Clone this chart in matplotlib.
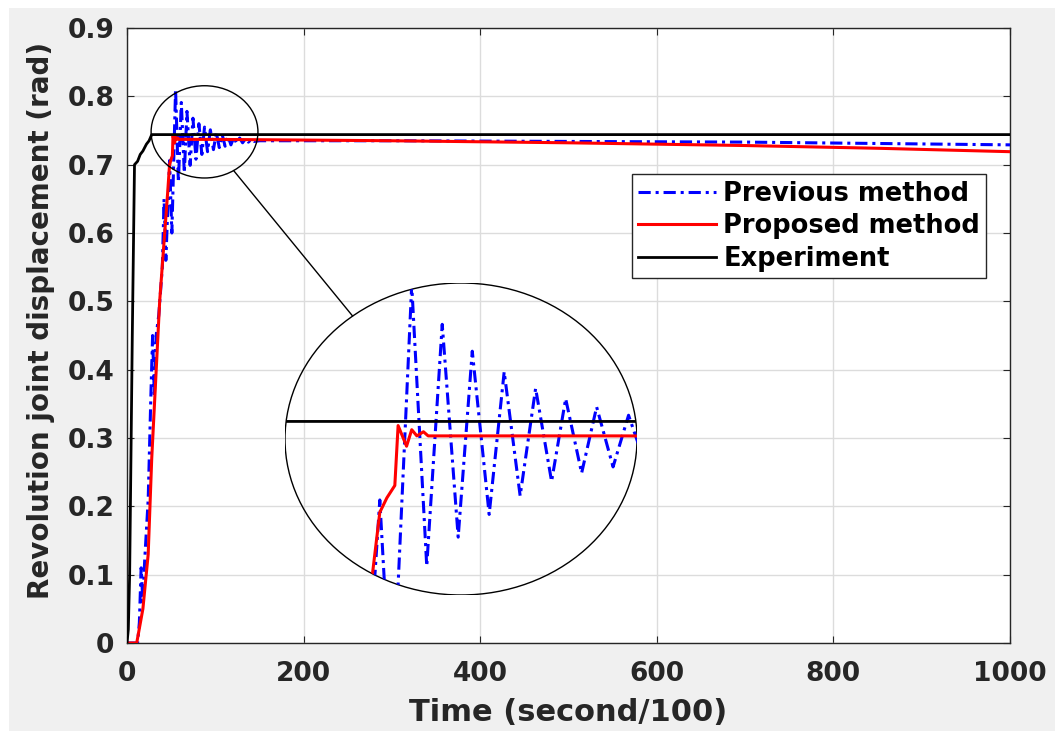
import numpy as np
import matplotlib
matplotlib.use('Agg')
import matplotlib.pyplot as plt
from matplotlib.patches import Ellipse, ConnectionPatch, Rectangle

# experiment (black)
exp_t = [0, 1.5, 3, 6, 8.5, 12, 15, 18, 22, 25, 28, 1000]
exp_y = [0.0, 0.02, 0.10, 0.45, 0.70, 0.705, 0.715, 0.72, 0.73, 0.735, 0.744, 0.744]

# proposed method (red)
prop_t = [0, 11, 18, 24, 28, 37, 46.1, 48.2, 49.7, 51.4, 52.1, 53.9, 55.0, 56.1, 57.5, 58.5,
          100, 300, 500, 700, 850, 1000]
prop_y = [0, 0, 0.05, 0.13, 0.27, 0.50, 0.66, 0.70, 0.707, 0.713, 0.742, 0.732, 0.740, 0.737, 0.739, 0.737,
          0.737, 0.735, 0.732, 0.728, 0.724, 0.719]

# previous method (blue), read peak by peak
prev_t = [0, 12, 14, 16, 18, 20, 24, 27, 29, 31, 33, 36, 40, 42, 44, 48.2, 50.8, 55.0, 58.2, 61.5, 64.9,
          67.9, 71.5, 74.7, 78.1, 81.4, 84.8, 87.8, 91.2, 94.4, 97.9, 101.2, 104.5, 107.8, 111.1,
          114.4, 117.7, 121.0, 124.3, 127.6, 130.9, 134.2, 137.5, 140.8, 144, 150,
          300, 500, 700, 850, 1000]
prev_y = [0, 0, 0.03, 0.11, 0.06, 0.12, 0.21, 0.36, 0.45, 0.36, 0.45, 0.48, 0.55, 0.65, 0.56, 0.706, 0.60,
          0.810, 0.674, 0.791, 0.688, 0.778, 0.699, 0.768, 0.708, 0.760, 0.715, 0.755, 0.719, 0.751,
          0.722, 0.747, 0.725, 0.744, 0.727, 0.742, 0.729, 0.740, 0.731, 0.739, 0.732, 0.738,
          0.733, 0.737, 0.734, 0.735,
          0.735, 0.734, 0.733, 0.731, 0.729]

xticks = [0, 200, 400, 600, 800, 1000]
yticks = [0, 0.1, 0.2, 0.3, 0.4, 0.5, 0.6, 0.7, 0.8, 0.9]
ytick_labels = ['0', '0.1', '0.2', '0.3', '0.4', '0.5', '0.6', '0.7', '0.8', '0.9']

blue_ls = (0, (4, 1.6, 1, 1.6))
ink = '#262626'

fig = plt.figure(figsize=(10.55, 7.31), dpi=100)
fig.patch.set_facecolor('#f0f0f0')
# thin white strips at the left and top of the screenshot
fig.patches.append(Rectangle((0, 0), 9 / 1055, 1, transform=fig.transFigure,
                             facecolor='white', edgecolor='none', zorder=-10))
fig.patches.append(Rectangle((0, 1 - 8 / 731), 1, 8 / 731, transform=fig.transFigure,
                             facecolor='white', edgecolor='none', zorder=-10))

ax = fig.add_axes([127 / 1055, 88 / 731, 883 / 1055, 615 / 731])
ax.set_facecolor('white')
ax.plot(prev_t, prev_y, color='#0000ff', lw=2.2, linestyle=blue_ls, label='Previous method', zorder=3)
ax.plot(prop_t, prop_y, color='#ff0000', lw=2.2, label='Proposed method', zorder=4)
ax.plot(exp_t, exp_y, color='black', lw=2.0, label='Experiment', zorder=5)

ax.set_xlim(0, 1000)
ax.set_ylim(0, 0.9)
ax.set_xticks(xticks)
ax.set_xticklabels([str(v) for v in xticks])
ax.set_yticks(yticks)
ax.set_yticklabels(ytick_labels)
ax.grid(True, color='#dcdcdc', lw=1)
ax.set_axisbelow(True)
ax.tick_params(direction='in', top=True, right=True, length=5, labelsize=19, color=ink)
ax.tick_params(axis='x', pad=13)
ax.tick_params(axis='y', pad=9)
for lab in ax.get_xticklabels() + ax.get_yticklabels():
    lab.set_fontweight('bold')
    lab.set_color(ink)
for sp in ax.spines.values():
    sp.set_color(ink)
    sp.set_linewidth(1)

ax.set_xlabel('Time (second/100)', fontsize=22, fontweight='bold', color=ink, labelpad=8)
ax.set_ylabel('Revolution joint displacement (rad)', fontsize=20, fontweight='bold', color=ink)
ax.yaxis.set_label_coords(-0.081, 0.524)

leg = ax.legend(loc='upper left', bbox_to_anchor=(0.572, 0.762), borderaxespad=0, handlelength=3.0,
                labelspacing=0.25, borderpad=0.25, handletextpad=0.3, fancybox=False, framealpha=1,
                edgecolor=ink, prop={'weight': 'bold', 'size': 18.5})
leg.get_frame().set_linewidth(1)

# small circle around the overshoot region
small = Ellipse((87.8, 0.748), 121, 0.135, fill=False, edgecolor='black', lw=1, zorder=6)
ax.add_patch(small)

# zoomed inset
axi = fig.add_axes([285 / 1055, 136 / 731, 352 / 1055, 312 / 731])
axi.patch.set_visible(False)
axi.set_axis_off()
axi.set_xlim(28, 103)
axi.set_ylim(0.66, 0.811)
clip = Ellipse((0.5, 0.5), 1, 1, transform=axi.transAxes, facecolor='none', edgecolor='none')
axi.add_patch(clip)
l1, = axi.plot(prev_t, prev_y, color='#0000ff', lw=2.2, linestyle=blue_ls)
l2, = axi.plot(prop_t, prop_y, color='#ff0000', lw=2.2)
l3, = axi.plot(exp_t, exp_y, color='black', lw=2.0)
for ln in (l1, l2, l3):
    ln.set_clip_path(clip)
axi.add_patch(Ellipse((0.5, 0.5), 1, 1, transform=axi.transAxes, fill=False, edgecolor='black', lw=1))

# connector line between the two circles
a1 = np.deg2rad(-57)
p1 = (87.8 + 60.5 * np.cos(a1), 0.748 + 0.0675 * np.sin(a1))
a2 = np.deg2rad(128)
p2 = (0.5 + 0.5 * np.cos(a2), 0.5 + 0.5 * np.sin(a2))
con = ConnectionPatch(xyA=p1, coordsA=ax.transData, xyB=p2, coordsB=axi.transAxes,
                      color='black', lw=1)
fig.add_artist(con)

fig.savefig('out.png', dpi=100, facecolor=fig.get_facecolor())
